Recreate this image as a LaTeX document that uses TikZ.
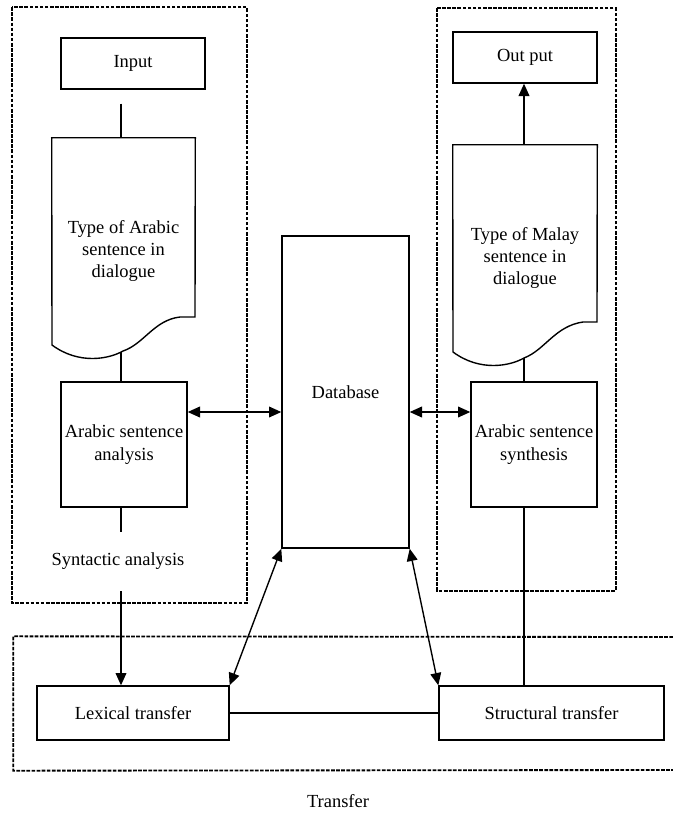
\documentclass[tikz,border=0pt]{standalone}
\usepackage{fontspec}
\setmainfont{Liberation Serif}
\usepackage{tikz}
\usetikzlibrary{backgrounds}
\usetikzlibrary{calc}
\usetikzlibrary{arrows.meta}
\newcommand{\pxu}{0.65pt}
\tikzset{
  box/.style={draw, rectangle, line width=0.9pt, inner sep=1pt, align=center},
  doctext/.style={rectangle, inner sep=0pt, align=center},
  dotframe/.style={draw, line width=1.2pt, dash pattern=on 2.4pt off 0.9pt},
  link/.style={line width=0.9pt},
  arr/.style={link, -{Triangle[length=8pt,width=7pt]}},
  darr/.style={link, {Triangle[length=8pt,width=7pt]}-{Triangle[length=8pt,width=7pt]}},
}

\begin{document}
\begin{tikzpicture}[x=\pxu, y=-\pxu, font=\fontsize{12}{14.5}\selectfont]
\useasboundingbox (0,0) rectangle (673,814);

% columns of the vertical links
\coordinate (colL) at (121,0);
\coordinate (colR) at (524,0);
\coordinate (lvl) at (0,412);

%A: Arabic side
\node[box, minimum width={144*\pxu}, minimum height={51*\pxu}] (inp) at (133,63.5) {Input};
\node[doctext, minimum width={143*\pxu}, minimum height={226*\pxu}] (adoc) at (123.5,251)
  {Type of Arabic\\sentence in\\dialogue};
\draw[link] (adoc.north west) -- (adoc.north east) -- (195,317) -- (180,317)
  .. controls (154,320) and (144,344) .. (123,351)
  .. controls (109,359) and (79,365) .. (52,345) -- cycle;
\coordinate (awave) at (121,351.5);
\node[box, minimum width={126*\pxu}, minimum height={125*\pxu}] (ana) at (124,444.5)
  {Arabic sentence\\analysis};

%D: database
\node[box, minimum width={127*\pxu}, minimum height={312*\pxu}] (db) at (345.5,392) {Database};

%M: Malay side
\node[box, minimum width={144*\pxu}, minimum height={51*\pxu}] (out) at (525,57.5) {Out put};
\node[doctext, minimum width={144*\pxu}, minimum height={226*\pxu}] (mdoc) at (525,258)
  {Type of Malay\\sentence in\\dialogue};
\draw[link] (mdoc.north west) -- (mdoc.north east) -- (597,322) -- (583,322)
  .. controls (555,326) and (545,350) .. (524,358)
  .. controls (510,366) and (480,372) .. (453,352) -- cycle;
\coordinate (mwave) at (524,358);
\node[box, minimum width={126*\pxu}, minimum height={125*\pxu}] (synb) at (534,444.5)
  {Arabic sentence\\synthesis};

%T: transfer
\node[box, minimum width={192*\pxu}, minimum height={54*\pxu}] (lex) at (133,713) {Lexical transfer};
\node[box, minimum width={225*\pxu}, minimum height={54*\pxu}] (str) at (551.5,713) {Structural transfer};
\node (trlabel) at (338,801) {Transfer};

% links
\draw[link, shorten <=9pt] (inp.south -| colL) -- (adoc.north -| colL);
\draw[link] (awave) -- (ana.north -| awave);
\draw[arr] (ana.south -| colL) -- (lex.north -| colL);
\node[fill=white, minimum height={59*\pxu}, inner xsep=2pt] (syn) at (118,561.5) {Syntactic analysis};

\draw[arr] (mdoc.north -| colR) -- (out.south -| colR);
\draw[link] (mwave) -- (synb.north -| mwave);
\draw[link] (synb.south -| colR) -- (str.north -| colR);
\draw[link] (lex) -- (str);

\path[darr]
  (ana.east |- lvl) edge (db.west |- lvl)
  (db.east |- lvl) edge (synb.west |- lvl)
  (db.south west) edge (lex.north east)
  (db.south east) edge (str.north west);

% frames
\begin{pgfonlayer}{background}
  \path[dotframe] ([shift={(-48,-30)}]inp.north west)
    rectangle ([shift={(41,12)}]syn.south -| inp.east);
  \path[dotframe] ([shift={(-15,-23)}]out.north west)
    rectangle ([shift={(18,83)}]synb.south east);
  \path[dotframe] (673,637) -- ([shift={(-23,-49)}]lex.north west)
    -- ([shift={(-23,30)}]lex.south west) -- (673,770);
\end{pgfonlayer}

\end{tikzpicture}
\end{document}
